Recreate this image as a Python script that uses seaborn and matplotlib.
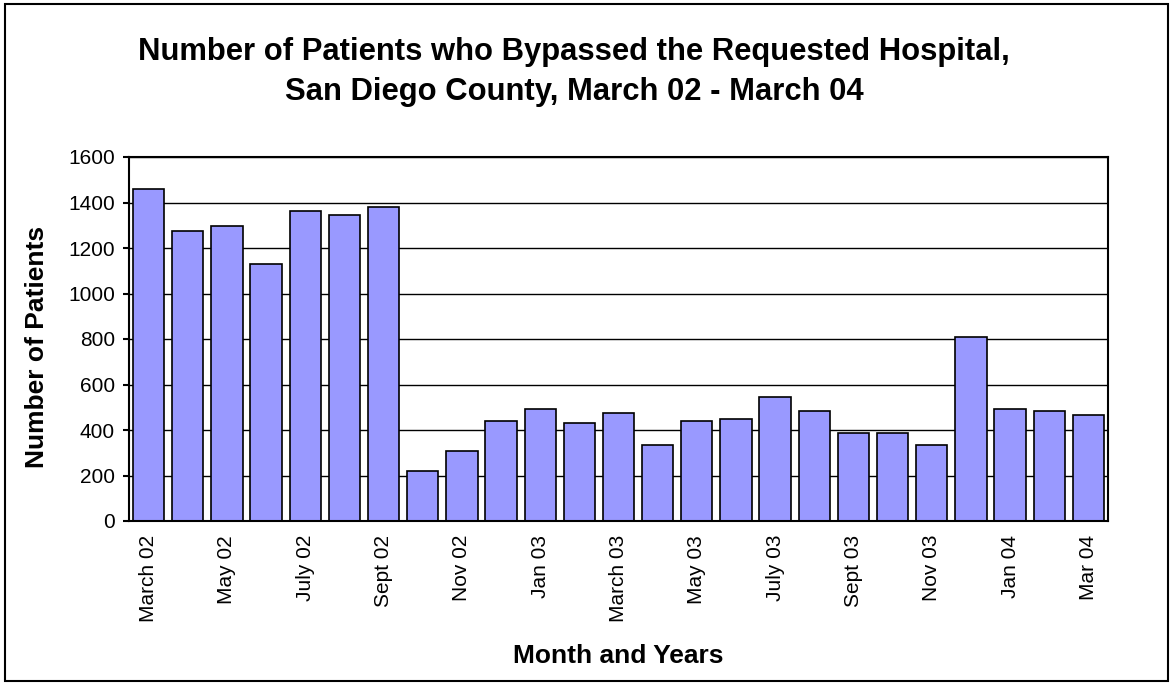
import numpy as np
import pandas as pd
import seaborn as sns
import matplotlib.pyplot as plt
from matplotlib.patches import Rectangle

# Data
months = ['March 02', 'April 02', 'May 02', 'June 02', 'July 02', 'Aug 02',
          'Sept 02', 'Oct 02', 'Nov 02', 'Dec 02', 'Jan 03', 'Feb 03',
          'March 03', 'April 03', 'May 03', 'June 03', 'July 03', 'Aug 03',
          'Sept 03', 'Oct 03', 'Nov 03', 'Dec 03', 'Jan 04', 'Feb 04', 'Mar 04']
patients = [1458, 1273, 1298, 1131, 1361, 1344, 1379, 218, 306, 438, 491, 429,
            473, 333, 438, 447, 544, 482, 385, 385, 333, 807, 491, 482, 465]
y_ticks = [0, 200, 400, 600, 800, 1000, 1200, 1400, 1600]

df = pd.DataFrame({'Month': months, 'Patients': patients})

sns.set_style('white')
plt.rcParams['font.family'] = ['Liberation Sans', 'DejaVu Sans']
plt.rcParams['text.color'] = 'black'
plt.rcParams['axes.labelcolor'] = 'black'
plt.rcParams['xtick.color'] = 'black'
plt.rcParams['ytick.color'] = 'black'

W, H = 1171, 685
fig = plt.figure(figsize=(W / 100, H / 100), dpi=100)
ax = fig.add_axes([129 / W, 1 - 521 / H, (1108 - 129) / W, (521 - 157) / H])

sns.barplot(data=df, x='Month', y='Patients', color='#9999FF', saturation=1,
            edgecolor='black', linewidth=1.2, width=0.8, ax=ax)

# axes limits and grid
ax.set_xlim(-0.5, len(months) - 0.5)
ax.set_ylim(0, 1600)
ax.set_yticks(y_ticks)
ax.yaxis.grid(True, color='black', linewidth=1)
ax.set_axisbelow(True)

# label every other month, tick marks between categories
ax.set_xticks(np.arange(0, len(months), 2))
ax.set_xticklabels(months[::2], rotation=90, fontsize=15)
ax.set_xticks(np.arange(-0.5, len(months), 1), minor=True)
ax.tick_params(axis='x', which='major', length=0, pad=10)
ax.tick_params(axis='x', which='minor', length=4, width=1.5, direction='out', color='black')
ax.tick_params(axis='y', length=4, width=1.5, direction='out', color='black',
               pad=6, labelsize=15, left=True)

for s in ax.spines.values():
    s.set_visible(True)
    s.set_color('black')
    s.set_linewidth(1.5)

ax.set_xlabel('Month and Years', fontsize=19, fontweight='bold')
ax.xaxis.set_label_coords(0.5, (521 - 663) / 364)
ax.xaxis.label.set_verticalalignment('baseline')
ax.set_ylabel('Number of Patients', fontsize=19, fontweight='bold')
ax.yaxis.set_label_coords((37 - 129) / 979, (521 - 347) / 364)
ax.yaxis.label.set_verticalalignment('center')

fig.text(574 / W, 1 - 60 / H,
         'Number of Patients who Bypassed the Requested Hospital,',
         ha='center', va='baseline', fontsize=22.3, fontweight='bold')
fig.text(574 / W, 1 - 100 / H, 'San Diego County, March 02 - March 04',
         ha='center', va='baseline', fontsize=22.3, fontweight='bold')

# outer frame
fig.patches.append(Rectangle((5 / W, 4 / H), (1168 - 5) / W, (681 - 4) / H,
                             transform=fig.transFigure, fill=False,
                             edgecolor='black', linewidth=1.5))

fig.savefig('out.png', dpi=100)
